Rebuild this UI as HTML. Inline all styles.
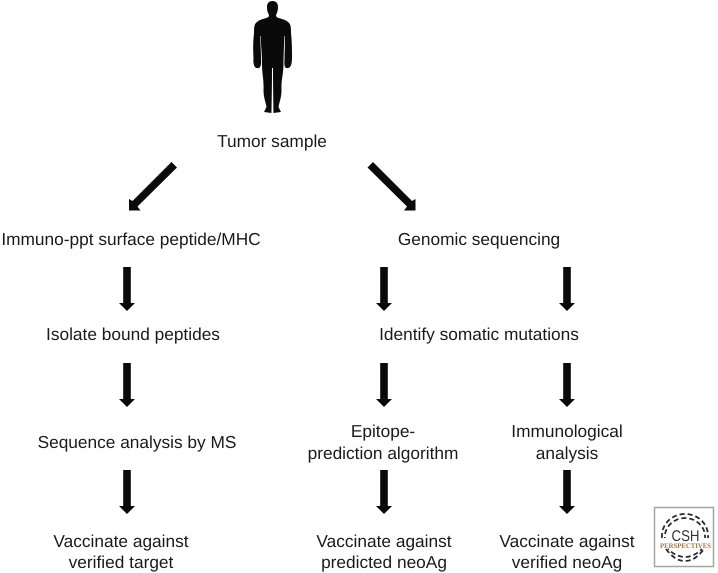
<!DOCTYPE html>
<html>
<head>
<meta charset="utf-8">
<style>
html,body{margin:0;padding:0;background:#fff;width:718px;height:573px;overflow:hidden}
svg{display:block}
text{font-family:"Liberation Sans",sans-serif;font-size:17.3px;fill:#1a1a1a;text-anchor:middle;text-rendering:geometricPrecision}
</style>
</head>
<body>
<svg width="718" height="573" viewBox="0 0 718 573" xmlns="http://www.w3.org/2000/svg">
<defs>
<path id="v" d="M-3.800 0H3.800V36H8L0 44L-8 36H-3.800Z" fill="#0a0a0a"/>
</defs>
<!-- person -->
<path fill="#0a0a0a" d="M272.500 1C276 1 278 3 278 7C278 11 277 13 276 15L276.500 17C280 19 285 19 288 22C291 24 291 28 291 33C292 42 292 50 292 58C292 63 291 68 288 68C285 69 284 66 284.500 60C284.500 52 285 44 285 36L284.500 36C284 45 283.500 55 283.500 64C283.500 74 281 80 281.500 90C281.500 98 279 103 278.500 107L281 112L273.500 113C273.500 108 273 90 273 68H272C272 90 271.500 108 271.500 113L264 112L266.500 107C266 103 263.500 98 263.500 90C264 80 262 74 262 64C262 55 261 45 260.500 36L260 36C260.500 44 261 52 261 60C261.500 66 260 69 257 68C254 68 253 63 253.500 58C253 50 253 42 254 33C254 28 254 24 257 22C260 19 265 19 268.500 17L269 15C268 13 267 11 267 7C267 3 269 1 272.500 1Z"/>
<!-- diagonal arrows -->
<path fill="#0a0a0a" d="M171.500 162L177 167.500L137.500 206.500L140.500 210.500H129V199L132.500 201Z"/>
<path fill="#0a0a0a" d="M373 162L367.500 167.500L407 206.500L404 210.500H415.500V199L412 201Z"/>
<!-- vertical arrows -->
<use href="#v" x="127" y="267"/>
<use href="#v" x="384" y="267"/>
<use href="#v" x="567" y="267"/>
<use href="#v" x="127" y="363"/>
<use href="#v" x="384" y="363"/>
<use href="#v" x="567" y="363"/>
<use href="#v" x="127" y="470"/>
<use href="#v" x="384" y="470"/>
<use href="#v" x="567" y="470"/>
<!-- labels -->
<text x="272" y="147">Tumor sample</text>
<text x="131" y="245">Immuno-ppt surface peptide/MHC</text>
<text x="479" y="245">Genomic sequencing</text>
<text x="133" y="340">Isolate bound peptides</text>
<text x="479" y="340">Identify somatic mutations</text>
<text x="137" y="448">Sequence analysis by MS</text>
<text x="383" y="437">Epitope-</text>
<text x="383" y="459">prediction algorithm</text>
<text x="567" y="437">Immunological</text>
<text x="567" y="459">analysis</text>
<text x="121" y="547">Vaccinate against</text>
<text x="121" y="568">verified target</text>
<text x="384" y="547">Vaccinate against</text>
<text x="384" y="568">predicted neoAg</text>
<text x="567" y="547">Vaccinate against</text>
<text x="567" y="568">verified neoAg</text>
<!-- logo -->
<rect x="654.500" y="507.500" width="59" height="59" fill="#fff" stroke="#a5a5a5" stroke-width="1.500"/>
<g fill="none" stroke="#2a2a2a" stroke-width="1.800">
<path d="M662 538C661 524 672 514 685 514C698 514 709 524 708 538" stroke-dasharray="5 3"/>
<path d="M665 538C664 527 674 518 685 518C696 518 706 527 705 538" stroke-dasharray="5 3" stroke-dashoffset="4"/>
<path d="M666 549C672 557 678 561 685 561C692 561 698 557 704 549" stroke-dasharray="5 3"/>
<path d="M668 549C673 554 679 557 685 557C691 557 697 554 702 549" stroke-dasharray="5 3" stroke-dashoffset="4"/>
</g>
<text x="685.500" y="541" textLength="28" lengthAdjust="spacingAndGlyphs" style="font-size:15.500px;fill:#333">CSH</text>
<text x="685.500" y="548" textLength="51" lengthAdjust="spacingAndGlyphs" style="font-family:'Liberation Serif',serif;font-size:7px;font-weight:bold;fill:#b5713a">PERSPECTIVES</text>
</svg>
</body>
</html>
